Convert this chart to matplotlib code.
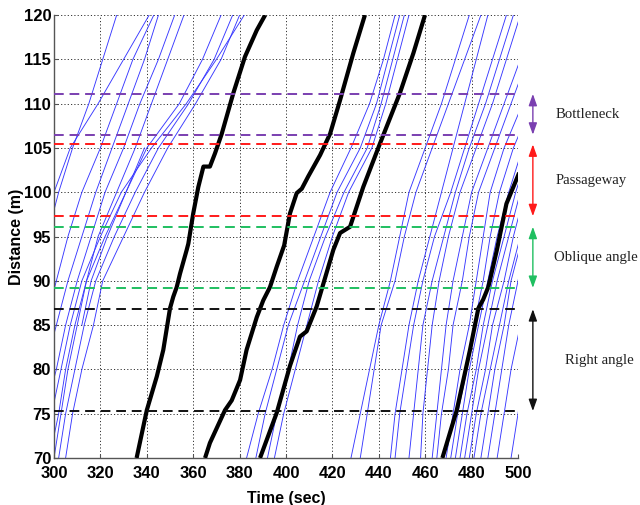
import numpy as np
import matplotlib
matplotlib.use('Agg')
import matplotlib.pyplot as plt

nan = np.nan

# distances (m) at which each pedestrian trip time was read
dist_grid = [70, 75, 80, 85, 90, 95, 100, 105, 110, 115, 120]

# thin blue trips: time (sec) at each distance of dist_grid
blue_trips = [
    # first group
    [nan, nan, nan, nan, 288, 294, 300, 307, 319, 330, 341],
    [nan, nan, nan, nan, 290, 297, 302, 308, 315, 321, 327],
    [nan, nan, nan, 296, 301, 306, 312, 320, 327, 334, 343],
    [nan, nan, 296, 301, 306, 312, 318, 325, 332, 339, 345],
    [nan, 296, 301, 305, 310, 316, 322, 330, 337, 345, 352],
    [298, 302, 305, 309, 314, 319, 327, 335, 342, 349, 356],
    [nan, nan, nan, 312, 316, 323, 331, 339, nan, nan, nan],
    [300, 303, 306, 310, 314, 322, 331, 340, 354, 364, 372],
    [302, 305, 309, 313, 318, 326, 335, 345, 358, 369, 377],
    [305, 308, 312, 317, 321, 330, 339, 349, 361, 372, 380],
    [296, 299, 303, 307, 312, 320, 329, 342, 357, 370, 382],
    # second group
    [383, 388, 394, 399, 405, 412, 419, 428, 436, 442, 447],
    [387, 391, 396, 401, 408, 415, 422, 432, 439, 444, 449],
    [392, 396, 401, 405, 410, 417, 425, 435, 441, 446, 451],
    [395, 399, 404, 409, 414, 420, 427, 437, 443, 448, 453],
    # third group
    [428, 432, 436, 440, 445, 449, 453, 460, 467, 473, 479],
    [432, 435, 438, 441, 447, 451, 456, 463, 470, 477, 484],
    [445, 447, 450, 453, 457, 462, 467, 472, 477, 482, 487],
    [447, 449, 452, 455, 459, 464, 471, 477, 483, 489, 495],
    [453, 455, 457, 459, 463, 468, 473, 479, 486, 492, 498],
    [458, 459, 461, 463, 466, 470, 475, 482, 489, 495, 501],
    [463, 465, 467, 469, 472, 476, 480, 487, 494, 501, nan],
    [465, 467, 470, 472, 476, 479, 483, 490, 497, 504, nan],
    [469, 472, 475, 479, 482, 485, 488, 494, 502, nan, nan],
    [471, 474, 478, 481, 485, 488, 492, 498, 506, nan, nan],
    [473, 476, 479, 483, 487, 491, 496, 502, nan, nan, nan],
    [475, 478, 482, 485, 489, 494, 499, 505, nan, nan, nan],
    [477, 480, 483, 487, 491, 496, 501, nan, nan, nan, nan],
    [479, 482, 486, 489, 494, 498, 503, nan, nan, nan, nan],
    [481, 484, 488, 492, 496, 501, nan, nan, nan, nan, nan],
    [484, 487, 490, 494, 497, 502, nan, nan, nan, nan, nan],
    [487, 490, 493, 496, 500, 504, nan, nan, nan, nan, nan],
    [491, 494, 497, 501, nan, nan, nan, nan, nan, nan, nan],
    [497, 500, 503, nan, nan, nan, nan, nan, nan, nan, nan],
]

# thick black trips, read point by point
black_t = [
    [335.6, 340.0, 344.3, 347.1, 350.0, 351.4, 352.9, 354.3, 357.2, 357.9,
     360.0, 362.2, 364.4, 367.2, 369.4, 372.3, 377.3, 382.3, 387.4, 391.0],
    [365.1, 367.2, 373.7, 376.6, 380.2, 383.0, 387.4, 390.2, 393.1, 396.0,
     399.2, 401.7, 404.6, 406.8, 409.6, 414.7, 419.0, 423.3, 429.0, 434.0],
    [388.8, 396.0, 401.7, 406.0, 408.9, 413.2, 420.4, 423.3, 427.6, 433.3,
     440.5, 449.1, 454.9, 459.9],
    [467.4, 473.6, 479.3, 482.9, 485.0, 487.2, 490.9, 495.0, 500.5],
]
black_d = [
    [70, 75.4, 79.2, 82.2, 86.9, 88.2, 89.3, 90.8, 93.5, 94.2,
     97.6, 100.6, 102.9, 102.9, 104.4, 106.6, 111.2, 115.3, 118.3, 120],
    [70, 71.7, 75.4, 76.5, 78.8, 82.2, 85.9, 87.8, 89.3, 91.6,
     94.0, 97.6, 99.9, 100.4, 101.8, 104.2, 106.6, 110.4, 115.7, 120],
    [70, 75.1, 80.4, 83.7, 84.3, 87.1, 93.5, 95.4, 96.1, 100.6,
     105.5, 111.2, 115.7, 120],
    [70, 75.4, 82.2, 86.9, 87.9, 89.3, 93.5, 98.7, 102.2],
]

zone_names = ['Bottleneck', 'Passageway', 'Oblique angle', 'Right angle']
zone_lo = [106.5, 97.3, 89.2, 75.3]
zone_hi = [111.1, 105.4, 96.1, 86.8]
zone_colors = ['#7a3fb0', '#ff1a1a', '#1fbf60', '#111111']
label_x = [1.082, 1.082, 1.078, 1.101]

tick_font = ['Liberation Sans Narrow', 'Liberation Sans', 'DejaVu Sans']

fig = plt.figure(figsize=(6.4, 5.05), dpi=100)
ax = fig.add_axes([0.0844, 0.0931, 0.725, 0.877])

dist = np.array(dist_grid, dtype=float)
for trip in blue_trips:
    t = np.array(trip, dtype=float)
    ok = ~np.isnan(t)
    ax.plot(t[ok], dist[ok], color='#3838ff', lw=0.65, zorder=2)

for t, d in zip(black_t, black_d):
    ax.plot(t, d, color='black', lw=3.0, solid_joinstyle='round',
            solid_capstyle='butt', zorder=3)

trans = ax.get_yaxis_transform()
for name, lo, hi, c, lx in zip(zone_names, zone_lo, zone_hi, zone_colors, label_x):
    ax.axhline(lo, color=c, lw=1.4, dashes=(5, 3), zorder=4)
    ax.axhline(hi, color=c, lw=1.4, dashes=(5, 3), zorder=4)
    ax.annotate('', xy=(1.032, hi), xytext=(1.032, lo),
                xycoords=trans, textcoords=trans, annotation_clip=False,
                arrowprops=dict(arrowstyle='<|-|>,head_length=0.7,head_width=0.25',
                                color=c, lw=1.0, shrinkA=0, shrinkB=0))
    ax.text(lx, (lo + hi) / 2, name, transform=trans, ha='left', va='center',
            fontsize=10.6, family='Liberation Serif', color='#222222',
            clip_on=False)

ax.set_xlim(300, 500)
ax.set_ylim(70, 120)
ax.set_xticks(np.arange(300, 501, 20))
ax.set_yticks(np.arange(70, 121, 5))
ax.grid(True, color='#333333', linestyle=(0, (1.2, 2.2)), lw=0.7)
ax.set_axisbelow(True)

for side in ['top', 'right']:
    ax.spines[side].set_visible(False)
for side in ['left', 'bottom']:
    ax.spines[side].set_color('#555555')
    ax.spines[side].set_linewidth(1.0)

ax.tick_params(direction='in', length=3, color='#555555')
ax.tick_params(axis='x', pad=6)
ax.tick_params(axis='y', pad=2)
for lab in ax.get_xticklabels() + ax.get_yticklabels():
    lab.set_family(tick_font)
    lab.set_fontsize(12)
    lab.set_fontweight('bold')

ax.set_xlabel('Time (sec)', family=tick_font, fontsize=11.5, fontweight='bold')
ax.set_ylabel('Distance (m)', family=tick_font, fontsize=11.5, fontweight='bold')
ax.xaxis.set_label_coords(0.5, -0.075)
ax.yaxis.set_label_coords(-0.064, 0.5)

fig.savefig('out.png', dpi=100)
